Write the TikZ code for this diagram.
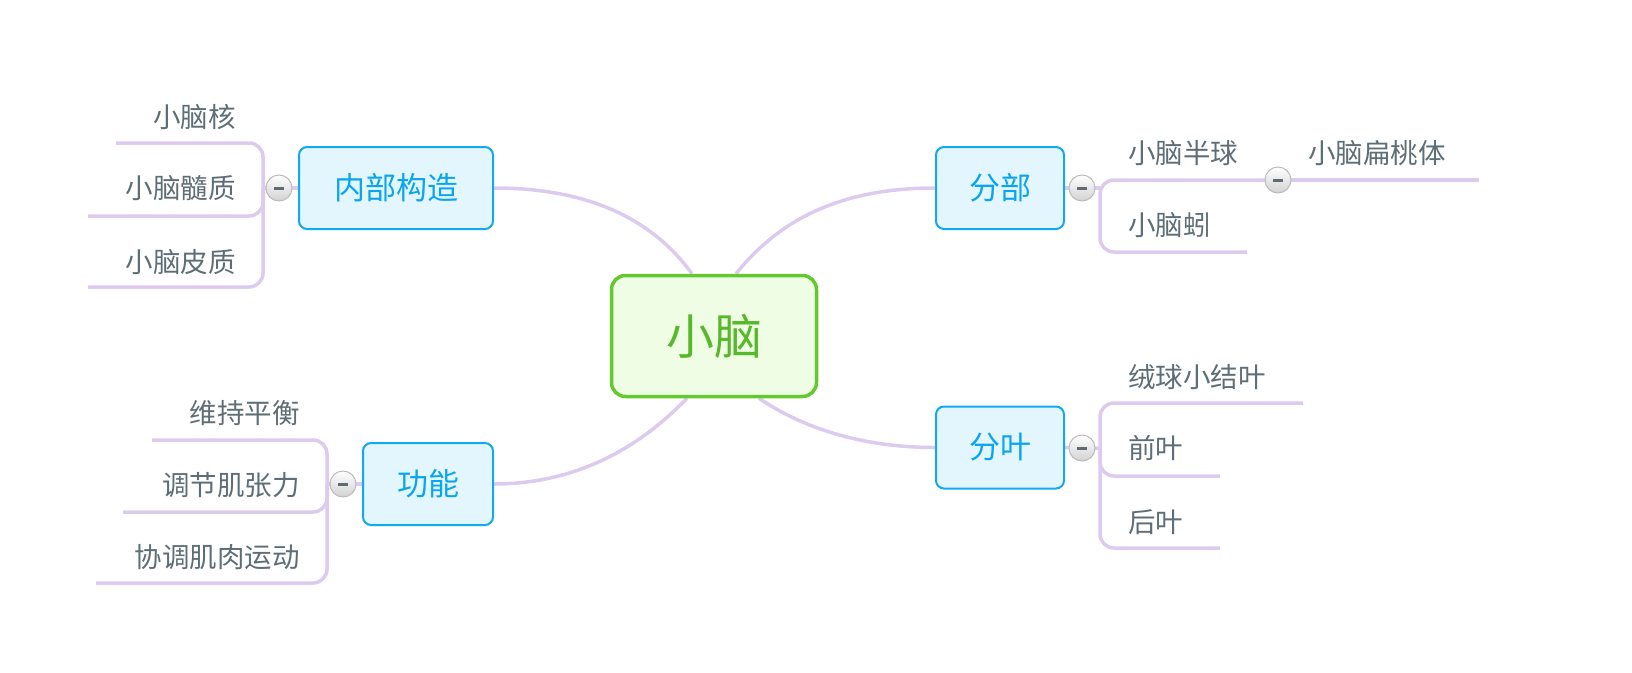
\documentclass[tikz,border=0pt]{standalone}
\usepackage{fontspec}
\newfontfamily\cjk{Noto Sans CJK SC}
\usetikzlibrary{calc}
\definecolor{linec}{HTML}{DDCBEF}
\definecolor{greenb}{HTML}{62C92F}
\definecolor{greenf}{HTML}{EFFDE4}
\definecolor{greent}{HTML}{57B82A}
\definecolor{blueb}{HTML}{10A9F2}
\definecolor{bluef}{HTML}{E3F5FD}
\definecolor{bluet}{HTML}{0AA5F0}
\definecolor{subt}{HTML}{5E6E76}
\definecolor{togb}{HTML}{BBBBBB}
\definecolor{togf}{HTML}{D2D2D2}
\definecolor{togm}{HTML}{5F6B73}
\pgfdeclarelayer{bg}
\pgfsetlayers{bg,main}
\begin{document}
\begin{tikzpicture}[x=1pt,y=-1pt,
 mainbox/.style={draw=greenb, fill=greenf, line width=3.5pt, rounded corners=14pt, minimum width=205pt, minimum height=121pt, text=greent, font=\cjk\fontsize{48}{56}\selectfont},
 topic/.style={draw=blueb, fill=bluef, line width=2pt, rounded corners=8pt, minimum height=82pt, text=bluet, font=\cjk\fontsize{31}{36}\selectfont},
 subt/.style={text=subt, font=\cjk\fontsize{27.5}{32}\selectfont, inner sep=0pt},
 conn/.style={draw=linec, line width=3.5pt},
 br/.style={conn, rounded corners=14pt},
 tog/.style={circle, draw=togb, line width=1pt, top color=white, bottom color=togf, minimum size=26pt, inner sep=0pt,
   path picture={\draw[line width=3pt, togm] ($(path picture bounding box.center)+(-5,0)$) -- ($(path picture bounding box.center)+(5,0)$);}},
]
\useasboundingbox (0,0) rectangle (1632,672);

% central and topic nodes
\node[mainbox] (c) at (714,336) {小脑};
\node[topic, minimum width=194pt] (nb) at (396,188) {内部构造};
\node[topic, minimum width=130pt] (gn) at (428,484) {功能};
\node[topic, minimum width=128pt] (fb) at (1000,188) {分部};
\node[topic, minimum width=128pt] (fy) at (1000,447.5) {分叶};

% toggles
\node[tog] (t1) at (279,188) {};
\node[tog] (t2) at (343,484) {};
\node[tog] (t3) at (1082,188) {};
\node[tog] (t4) at (1082,448) {};
\node[tog] (t5) at (1278,180) {};

% junctions and line ends
\coordinate (j1) at (263,188);
\coordinate (j2) at (327,484);
\coordinate (j3) at (1100,188);
\coordinate (j4) at (1100,448);
\coordinate (e11) at (116,143);
\coordinate (e12) at (88,216);
\coordinate (e13) at (88,287);
\coordinate (e21) at (152,440);
\coordinate (e22) at (123,512);
\coordinate (e23) at (96,583);
\coordinate (e31) at (1100,180);
\coordinate (e32) at (1247,252);
\coordinate (e33) at (1479,180);
\coordinate (e41) at (1303,403);
\coordinate (e42) at (1220,476);
\coordinate (e43) at (1220,548);

% sub texts
\node[subt, anchor=east] (s11) at (236,117) {小脑核};
\node[subt, anchor=east] (s12) at (236,188) {小脑髓质};
\node[subt, anchor=east] (s13) at (236,262) {小脑皮质};
\node[subt, anchor=east] (s21) at (300,413) {维持平衡};
\node[subt, anchor=east] (s22) at (300,485) {调节肌张力};
\node[subt, anchor=east] (s23) at (300,557) {协调肌肉运动};
\node[subt, anchor=west] (s31) at (1128,153) {小脑半球};
\node[subt, anchor=west] (s32) at (1128,225) {小脑蚓};
\node[subt, anchor=west] (s33) at (1308,153) {小脑扁桃体};
\node[subt, anchor=west] (s41) at (1128,377) {绒球小结叶};
\node[subt, anchor=west] (s42) at (1128,448) {前叶};
\node[subt, anchor=west] (s43) at (1128,522) {后叶};

\begin{pgfonlayer}{bg}
% main curves
\draw[conn] (nb.east) .. controls +(100,0) and +(-37,-51) .. ($(c.north)+(-22,0)$);
\draw[conn] ($(c.north)+(22,0)$) .. controls +(41,-51) and +(-99,0) .. (fb.west);
\draw[conn] (gn.east) .. controls +(99,0) and +(-32,33) .. ($(c.south)+(-27,0)$);
\draw[conn] ($(c.south)+(45,0)$) .. controls +(41,28) and +(-76,0) .. (fy.west);
% stubs
\draw[conn] (nb.west) -- (t1.center) -- (j1);
\draw[conn] (gn.west) -- (t2.center) -- (j2);
\draw[conn] (fb.east) -- (t3.center) -- (j3);
\draw[conn] (fy.east) -- (t4.center) -- (j4);
% brackets left
\draw[br] (j1) |- (e11);
\draw[br] (j1) |- (e12);
\draw[br] (j1) |- (e13);
\draw[br] (j2) |- (e21);
\draw[br] (j2) |- (e22);
\draw[br] (j2) |- (e23);
% brackets right
\draw[br] (e32) -| (e31) -- (t5.center);
\draw[conn] (t5.center) -- (e33);
\draw[br] (j4) |- (e41);
\draw[br] (j4) |- (e42);
\draw[br] (j4) |- (e43);
\end{pgfonlayer}
\end{tikzpicture}
\end{document}
